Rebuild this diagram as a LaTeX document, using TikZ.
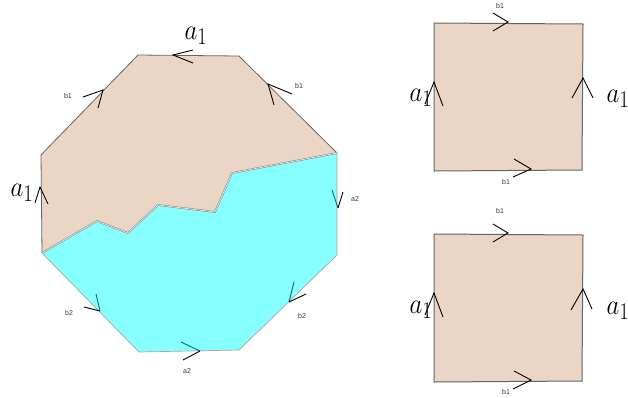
\documentclass[tikz,border=0pt]{standalone}
\usepackage{graphicx}
\usepackage{fontspec}
\setsansfont{Liberation Sans}
\definecolor{beige}{RGB}{235,213,197}
\definecolor{cyanf}{RGB}{136,255,255}
\definecolor{tealc}{RGB}{0,115,115}
\definecolor{edgeg}{RGB}{100,100,100}
\newcommand{\bigAone}{\scalebox{1}[1.15]{$a_1$}}
\begin{document}
\begin{tikzpicture}[x=1pt,y=-1pt,
  chev/.style={line width=0.9pt,black},
  chevin/.style={line width=0.9pt,tealc},
  small/.style={font=\sffamily\fontsize{7}{7}\selectfont,text=black!80,inner sep=0pt},
  big/.style={font=\fontsize{28}{28}\selectfont,inner sep=0pt},
  edge/.style={draw=edgeg,line width=0.8pt},
  sq/.style={draw=edgeg,line width=1pt,fill=beige}]
\useasboundingbox (0,0) rectangle (628,397);
% octagon
\coordinate (P1) at (138,55);
\coordinate (P2) at (239,56);
\coordinate (P3) at (337,153);
\coordinate (P4) at (337,255);
\coordinate (P5) at (239,350);
\coordinate (P6) at (139,352);
\coordinate (P7) at (42,253);
\coordinate (P8) at (41,155);
\coordinate (J1) at (97,221);
\coordinate (J2) at (128,233);
\coordinate (J3) at (158,205);
\coordinate (J4) at (215,212);
\coordinate (J5) at (232,173);
\fill[beige] (P8)--(P1)--(P2)--(P3)--(J5)--(J4)--(J3)--(J2)--(J1)--(P7)--cycle;
\fill[cyanf] (P3)--(P4)--(P5)--(P6)--(P7)--(J1)--(J2)--(J3)--(J4)--(J5)--cycle;
\draw[edge,line join=round] (P7)--(P8)--(P1)--(P2)--(P3);
\draw[draw=gray!70,line width=0.7pt] (P3)--(P4)--(P5)--(P6)--(P7);
\draw[draw=gray,double=white!85!gray,double distance=0.7pt,line width=0.5pt,line join=round]
  (P7)--(J1)--(J2)--(J3)--(J4)--(J5)--(P3);
% octagon arrows
\draw[chev] (193,50)--(173,55)--(193,63);
\draw[chev] (83,97)--(103,90)--(98,108);
\draw[chev] (292,94)--(268,84)--(274,105);
\draw[chev] (35,203)--(40,187)--(48,204);
\draw[chevin] (332,190)--(338,208);
\draw[chev] (338,208)--(343,192);
\draw[chev] (84,307)--(100,311);
\draw[chevin] (100,311)--(96,294);
\draw[chevin] (181,342)--(200,351);
\draw[chev] (200,351)--(183,360);
\draw[chevin] (294,282)--(289,302);
\draw[chev] (289,302)--(306,294);
% octagon labels
\node[big] (la1) at (196,36) {\bigAone};
\node[big] (la2) at (22,193) {\bigAone};
\node[small] (lb1) at (68,96) {b1};
\node[small] (lb2) at (299,86) {b1};
\node[small] (la3) at (355,199) {a2};
\node[small] (lb3) at (69,313) {b2};
\node[small] (lb4) at (302,316) {b2};
\node[small] (la4) at (187,371) {a2};
% top square
\draw[sq] (434,23)--(583,24)--(582,170)--(434,171)--cycle;
\draw[chev] (493,13)--(508,22)--(493,31);
\draw[chev] (514,159)--(531,169)--(513,177);
\draw[chev] (425,104)--(434,82)--(443,106);
\draw[chev] (572,98)--(583,78)--(593,98);
\node[small] (s1b1) at (500,6) {b1};
\node[small] (s1b2) at (506,182) {b1};
\node[big] (s1a1) at (421,98) {\bigAone};
\node[big] (s1a2) at (618,99) {\bigAone};
% bottom square
\draw[sq] (434,234)--(583,235)--(582,381)--(434,382)--cycle;
\draw[chev] (493,224)--(508,233)--(493,242);
\draw[chev] (514,371)--(531,380)--(513,389);
\draw[chev] (425,315)--(434,293)--(443,317);
\draw[chev] (571,310)--(583,289)--(592,309);
\node[small] (s2b1) at (500,211) {b1};
\node[small] (s2b2) at (506,392) {b1};
\node[big] (s2a1) at (421,310) {\bigAone};
\node[big] (s2a2) at (618,311) {\bigAone};
\end{tikzpicture}
\end{document}
